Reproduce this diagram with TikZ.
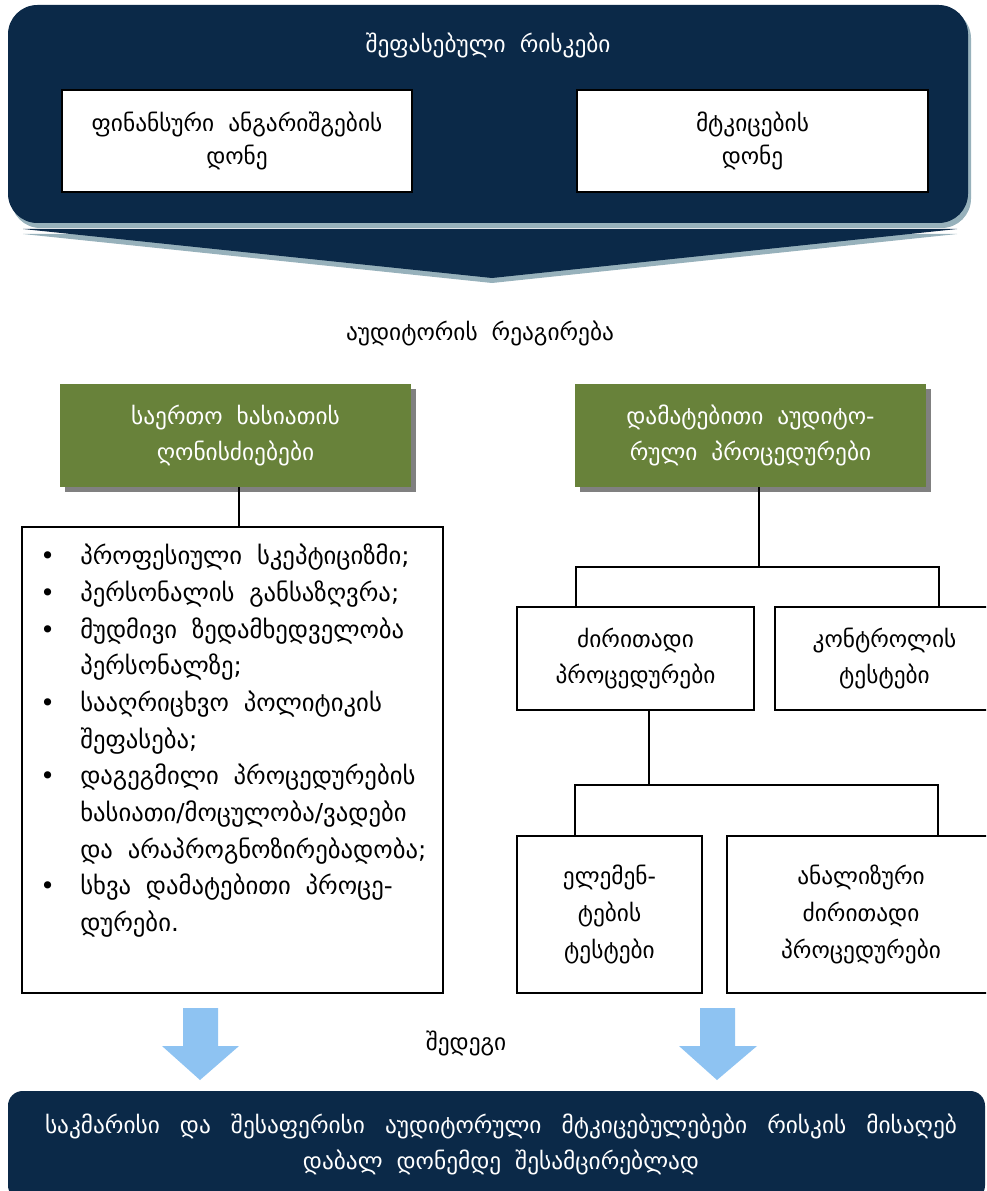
\documentclass[tikz,border=0pt]{standalone}
\usepackage{fontspec}
\setmainfont{DejaVu Sans}
\usetikzlibrary{shadows}

\definecolor{navy}{HTML}{0B2948}
\definecolor{navyshade}{HTML}{97B1BB}
\definecolor{olive}{HTML}{68823A}
\definecolor{skyarrow}{HTML}{8EC3F2}
\definecolor{greyshade}{HTML}{808080}

% body text: wide word spacing
\newcommand{\txt}{\fontsize{17.5pt}{27.5pt}\selectfont\spaceskip=0.6em plus 0.6em\relax}
\newcommand{\txtnarrow}{\fontsize{17.5pt}{24.75pt}\selectfont\spaceskip=0.6em plus 0.6em\relax}
\newcommand{\txtlist}{\fontsize{18.5pt}{27.5pt}\selectfont\spaceskip=0.6em plus 0.6em\relax}

\tikzset{
  plainbox/.style={draw=black, line width=1.4pt, fill=white, inner sep=0pt,
    align=center, font=\txt},
  greenbox/.style={fill=olive, text=white, inner sep=0pt, align=center, font=\txt,
    drop shadow={shadow xshift=4pt, shadow yshift=-4pt, fill=greyshade, opacity=1}},
  link/.style={draw=black, line width=1.1pt},
  bluearrow/.style={fill=skyarrow},
  caption/.style={font=\txt, inner sep=0pt}
}

\begin{document}
\begin{tikzpicture}[x=0.75pt, y=-0.75pt]
\useasboundingbox (0,0) rectangle (986,1191);
\clip (0,0) rectangle (986,1191);

% assessed-risk panel with its downward chevron
\fill[navyshade, rounded corners=22pt] (11,9) rectangle (971,228);
\fill[navy, rounded corners=22pt] (8,5) rectangle (968,223);
\fill[navyshade] (23,234) -- (957,234) -- (492,283) -- cycle;
\fill[navy] (23,229) -- (957,229) -- (492,278) -- cycle;

\node[caption, text=white] (title) at (488,45) {შეფასებული რისკები};

\node[plainbox, minimum width=262.5pt, minimum height=76.5pt, font=\txtnarrow]
  (finlevel) at (237,141) {ფინანსური ანგარიშგების\\დონე};
\node[plainbox, minimum width=263.25pt, minimum height=76.5pt, font=\txtnarrow]
  (assertlevel) at (752.5,141) {მტკიცების\\დონე};

\node[caption] (response) at (480,333) {აუდიტორის რეაგირება};

% responses
\node[greenbox, minimum width=263.25pt, minimum height=77.25pt] (general) at (235.5,435.5)
  {საერთო ხასიათის\\ღონისძიებები};
\node[greenbox, minimum width=263.25pt, minimum height=77.25pt] (further) at (750.5,435.5)
  {დამატებითი აუდიტო-\\რული პროცედურები};

\node[plainbox, minimum width=315.75pt, minimum height=349.5pt] (measures) at (232.5,760) {};
\node[anchor=north west, inner sep=0pt, font=\txtlist] (measurelist) at (40,539)
  {\begin{tabular}{@{}p{30pt}@{}l@{}}
   \textbullet & პროფესიული სკეპტიციზმი;\\
   \textbullet & პერსონალის განსაზღვრა;\\
   \textbullet & მუდმივი ზედამხედველობა\\
               & პერსონალზე;\\
   \textbullet & სააღრიცხვო პოლიტიკის\\
               & შეფასება;\\
   \textbullet & დაგეგმილი პროცედურების\\
               & ხასიათი/მოცულობა/ვადები\\
               & და არაპროგნოზირებადობა;\\
   \textbullet & სხვა დამატებითი პროცე-\\
               & დურები.
   \end{tabular}};

\node[plainbox, minimum width=177.75pt, minimum height=77.25pt] (substantive) at (635.5,658.5)
  {ძირითადი\\პროცედურები};
\node[plainbox, minimum width=164.25pt, minimum height=77.25pt] (controls) at (884.5,658.5)
  {კონტროლის\\ტესტები};
\node[plainbox, minimum width=138.75pt, minimum height=117.75pt] (details) at (609.5,914.5)
  {ელემენ-\\ტების\\ტესტები};
\node[plainbox, minimum width=201pt, minimum height=117.75pt] (analytic) at (861,914.5)
  {ანალიზური\\ძირითადი\\პროცედურები};

% connectors
\coordinate (fork) at (759,567);
\coordinate (forkl) at (576,567);
\coordinate (forkr) at (939,567);
\coordinate (split) at (649,785);
\coordinate (splitl) at (575,785);
\coordinate (splitr) at (938,785);

\draw[link] (general.south -| 239,0) -- (measures.north -| 239,0);
\draw[link] (fork |- further.south) -- (fork);
\draw[link] (forkl |- substantive.north) -- (forkl) -- (forkr) -- (forkr |- controls.north);
\draw[link] (split |- substantive.south) -- (split);
\draw[link] (splitl |- details.north) -- (splitl) -- (splitr) -- (splitr |- analytic.north);

% outcome
\node[caption] (outcome) at (466,1043) {შედეგი};

\fill[bluearrow] (183,1008) -- (218,1008) -- (218,1046) -- (239,1046) -- (200,1080)
  -- (162,1046) -- (183,1046) -- cycle;
\fill[bluearrow] (700,1008) -- (735,1008) -- (735,1046) -- (757,1046) -- (717,1080)
  -- (679,1046) -- (700,1046) -- cycle;

\fill[navy, rounded corners=11pt] (8,1091) rectangle (985,1200);
\node[caption, text=white, align=center] (evidence) at (501,1144.5)
  {\makebox[684pt][s]{საკმარისი და შესაფერისი აუდიტორული მტკიცებულებები რისკის მისაღებ}\\
   დაბალ დონემდე შესამცირებლად};
\end{tikzpicture}
\end{document}
